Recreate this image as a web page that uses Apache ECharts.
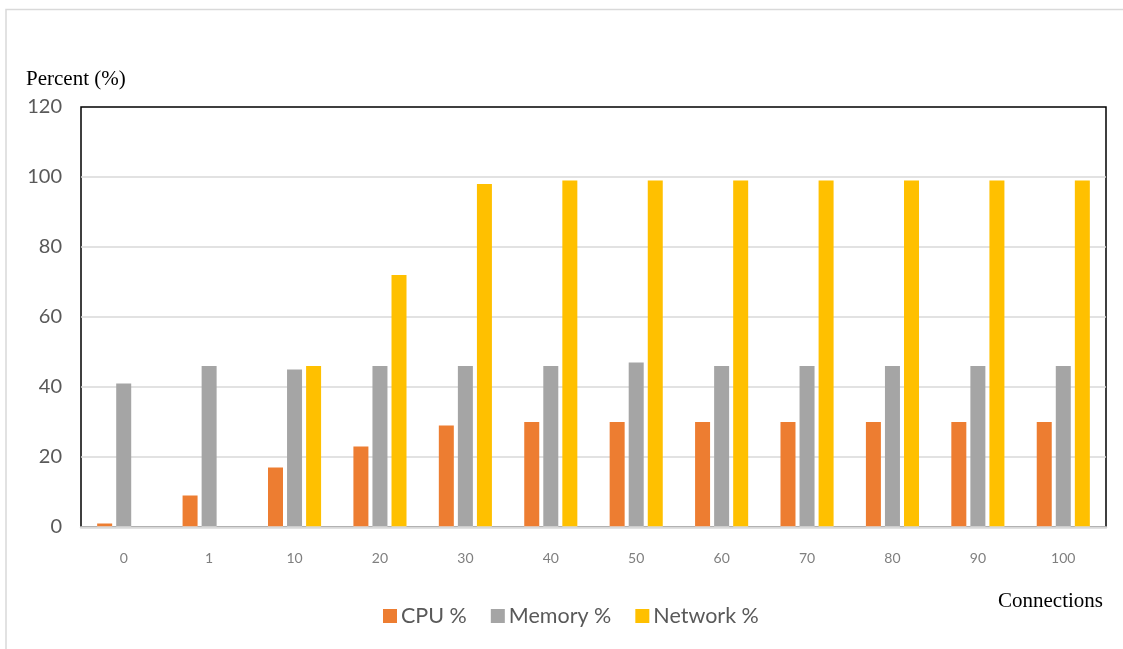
<!DOCTYPE html>
<html>
<head>
<meta charset="utf-8">
<title>Resource usage by connections</title>
<script src="https://cdn.jsdelivr.net/npm/echarts@6/dist/echarts.min.js"></script>
<style>
  html, body { margin: 0; padding: 0; background: #fff; }
  #chart { width: 1123px; height: 649px; }
</style>
</head>
<body>
<div id="chart"></div>
<script>
// Connection counts on the x axis
const connections = ['0', '1', '10', '20', '30', '40', '50', '60', '70', '80', '90', '100'];

// Utilisation in percent for each connection count
const cpuPct     = [1, 9, 17, 23, 29, 30, 30, 30, 30, 30, 30, 30];
const memoryPct  = [41, 46, 45, 46, 46, 46, 47, 46, 46, 46, 46, 46];
const networkPct = [0, 0, 46, 72, 98, 99, 99, 99, 99, 99, 99, 99];

const seriesNames = ['CPU %', 'Memory %', 'Network %'];
const seriesColors = ['#ED7D31', '#A5A5A5', '#FFC000'];

const chart = echarts.init(document.getElementById('chart'), null, { renderer: 'canvas' });

const labelFont = "Lato, 'Open Sans', 'Liberation Sans', sans-serif";
const serifFont = "'Liberation Serif', 'DejaVu Serif', serif";

function barSeries(i, values) {
  return {
    name: seriesNames[i],
    type: 'bar',
    data: values,
    barWidth: 15,
    barGap: '27%',
    itemStyle: { color: seriesColors[i] },
    z: 3
  };
}

chart.setOption({
  animation: false,
  backgroundColor: '#ffffff',
  grid: {
    left: 81, top: 107, right: 17, bottom: 122, containLabel: false,
    // black frame round the plot; the bottom edge is covered by the grey x axis line
    show: true, borderColor: '#000', borderWidth: 1.5, backgroundColor: 'transparent'
  },
  xAxis: {
    type: 'category',
    data: connections,
    axisLine: { show: true, onZero: false, lineStyle: { color: '#D9D9D9', width: 2.5 } },
    axisTick: { show: false },
    axisLabel: { color: '#7F7F7F', fontSize: 14, fontFamily: labelFont, margin: 24 },
    splitLine: { show: false },
    z: 5
  },
  yAxis: {
    type: 'value',
    min: 0,
    max: 120,
    interval: 20,
    axisLine: { show: false },
    axisTick: { show: false },
    axisLabel: { color: '#595959', fontSize: 20, fontFamily: labelFont, margin: 19 },
    splitLine: {
      show: true,
      lineStyle: { color: ['transparent', '#D9D9D9', '#D9D9D9', '#D9D9D9', '#D9D9D9', '#D9D9D9', 'transparent'], width: 1.5 }
    }
  },
  legend: {
    data: seriesNames,
    left: 378,
    top: 600,
    itemWidth: 14,
    itemHeight: 14,
    itemGap: 24,
    icon: 'rect',
    textStyle: { color: '#595959', fontSize: 21.5, fontFamily: labelFont, padding: [0, 0, 0, -1] }
  },
  graphic: [
    {
      type: 'polyline',
      shape: { points: [[6, 649], [6, 9.5], [1123, 9.5]] },
      style: { stroke: '#D9D9D9', lineWidth: 1.5, fill: null },
      silent: true
    },
    {
      type: 'text',
      left: 26,
      top: 69,
      style: { text: 'Percent (%)', fill: '#000', fontSize: 21, fontFamily: serifFont }
    },
    {
      type: 'text',
      left: 998,
      top: 591,
      style: { text: 'Connections', fill: '#000', fontSize: 21, fontFamily: serifFont }
    }
  ],
  series: [
    barSeries(0, cpuPct),
    barSeries(1, memoryPct),
    barSeries(2, networkPct)
  ]
});
</script>
</body>
</html>
